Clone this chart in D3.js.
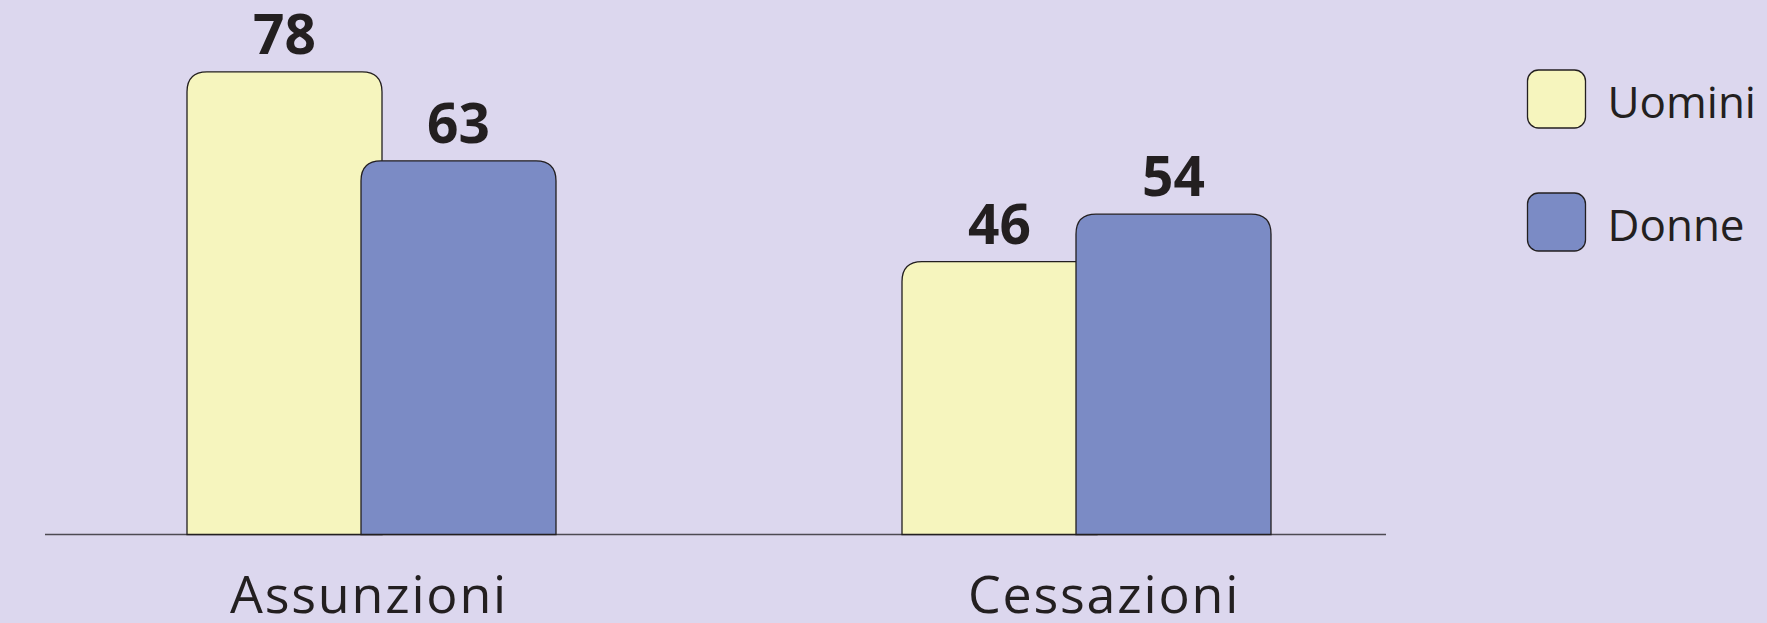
<!DOCTYPE html>
<html>
<head>
<meta charset="utf-8">
<script src="https://cdn.jsdelivr.net/npm/d3@7"></script>
<style>
  html, body { margin: 0; padding: 0; background: #dcd7ee; }
  svg { display: block; }
</style>
</head>
<body>
<div id="chart"></div>
<script>
// data
const categories = ["Assunzioni", "Cessazioni"];
const series = ["Uomini", "Donne"];
const uomini = [78, 46];
const donne = [63, 54];

const colors = { Uomini: "#f6f5be", Donne: "#7b8bc5" };
const ink = "#231f20";
const fontFam = "'Open Sans', 'Noto Sans', sans-serif";

const width = 1767, height = 623;
const baseY = 534.5;

const svg = d3.select("#chart").append("svg")
    .attr("width", width)
    .attr("height", height);

svg.append("rect")
    .attr("width", width).attr("height", height)
    .attr("fill", "#dcd7ee");

// group centres and bar offsets
const x0 = d3.scalePoint().domain(categories).range([371.5, 1086.5]);
const x1 = d3.scalePoint().domain(series).range([-87, 87]);
const xLabel = d3.scalePoint().domain(categories).range([368, 1103]);
const barW = 195;
const y = d3.scaleLinear().domain([0, 80]).range([baseY, 60]);

const rows = [];
categories.forEach((c, i) => {
    rows.push({ cat: c, key: "Uomini", value: uomini[i] });
    rows.push({ cat: c, key: "Donne", value: donne[i] });
});

// path with rounded top corners only
function topRounded(x, yTop, w, yBot, r) {
    return `M${x},${yBot} L${x},${yTop + r} Q${x},${yTop} ${x + r},${yTop} ` +
        `L${x + w - r},${yTop} Q${x + w},${yTop} ${x + w},${yTop + r} L${x + w},${yBot} Z`;
}

// axis line
svg.append("line")
    .attr("x1", 45).attr("x2", 1386)
    .attr("y1", baseY).attr("y2", baseY)
    .attr("stroke", "#4d4a52")
    .attr("stroke-width", 1.4);

svg.selectAll(".bar")
    .data(rows)
    .enter().append("path")
    .attr("class", "bar")
    .attr("d", d => {
        const cx = x0(d.cat) + x1(d.key);
        return topRounded(cx - barW / 2, y(d.value), barW, y(0), 20);
    })
    .attr("fill", d => colors[d.key])
    .attr("stroke", ink)
    .attr("stroke-width", 1.3);

svg.selectAll(".val")
    .data(rows)
    .enter().append("text")
    .attr("class", "val")
    .attr("x", d => x0(d.cat) + x1(d.key))
    .attr("y", d => y(d.value) - 18)
    .attr("text-anchor", "middle")
    .attr("font-family", fontFam)
    .attr("font-weight", 700)
    .attr("font-size", 55)
    .attr("fill", ink)
    .text(d => d.value);

svg.selectAll(".cat")
    .data(categories)
    .enter().append("text")
    .attr("class", "cat")
    .attr("x", d => xLabel(d) + 1)
    .attr("y", 613)
    .attr("text-anchor", "middle")
    .attr("font-family", fontFam)
    .attr("font-size", 52)
    .attr("letter-spacing", 1.8)
    .attr("fill", ink)
    .text(d => d);

// legend
const legend = svg.selectAll(".legend")
    .data(series)
    .enter().append("g")
    .attr("class", "legend")
    .attr("transform", (d, i) => `translate(1527.5, ${70 + i * 123})`);

legend.append("rect")
    .attr("width", 58).attr("height", 58)
    .attr("rx", 11).attr("ry", 11)
    .attr("fill", d => colors[d])
    .attr("stroke", ink)
    .attr("stroke-width", 1.3);

legend.append("text")
    .attr("x", 80)
    .attr("y", 48)
    .attr("font-family", fontFam)
    .attr("font-size", 44)
    .attr("fill", ink)
    .text(d => d);
</script>
</body>
</html>
